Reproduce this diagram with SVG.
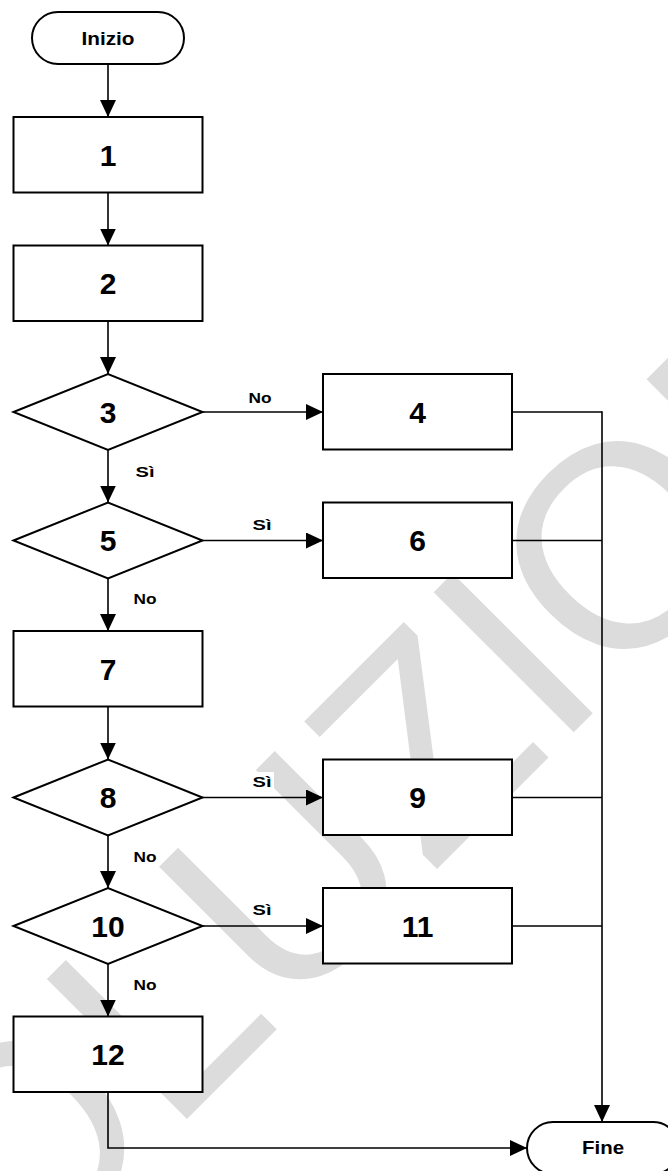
<svg xmlns="http://www.w3.org/2000/svg" width="668" height="1171" viewBox="0 0 668 1171">
  <style>
    .bg { fill: #ffffff; }
    .wm { font-family: "Liberation Sans", Arial, sans-serif; font-size: 288px; fill: #dcdcdc; }
    .shape { fill: #ffffff; stroke: #000000; stroke-width: 2; }
    .conn { fill: none; stroke: #000000; stroke-width: 1.6; }
    .num { font-family: "Liberation Sans", Arial, sans-serif; font-weight: bold; font-size: 30px; fill: #000000; text-anchor: middle; }
    .term { font-family: "Liberation Sans", Arial, sans-serif; font-weight: bold; font-size: 18.5px; fill: #000000; text-anchor: middle; }
    .lbl { font-family: "Liberation Sans", Arial, sans-serif; font-weight: bold; font-size: 15px; fill: #000000; text-anchor: middle; }
    .lblbg { fill: #ffffff; stroke: none; }
  </style>
  <defs>
    <marker id="arrow" markerUnits="userSpaceOnUse" markerWidth="17" markerHeight="16" refX="17" refY="8" orient="auto">
      <path d="M0,0 L17,8 L0,16 Z" fill="#000000"/>
    </marker>
  </defs>

  <rect class="bg" x="0" y="0" width="668" height="1171"/>

  <!-- watermark -->
  <g id="watermark">
    <text class="wm" x="0" y="0" transform="translate(-124 1430) rotate(-45)">SOLUZIONI</text>
  </g>

  <!-- connectors -->
  <g id="connectors">
    <line class="conn" x1="108" y1="64" x2="108" y2="117" marker-end="url(#arrow)"/>
    <line class="conn" x1="108" y1="192.5" x2="108" y2="245.5" marker-end="url(#arrow)"/>
    <line class="conn" x1="108" y1="321" x2="108" y2="374" marker-end="url(#arrow)"/>
    <line class="conn" x1="108" y1="450" x2="108" y2="502.5" marker-end="url(#arrow)"/>
    <line class="conn" x1="108" y1="578.5" x2="108" y2="631" marker-end="url(#arrow)"/>
    <line class="conn" x1="108" y1="706.5" x2="108" y2="759.5" marker-end="url(#arrow)"/>
    <line class="conn" x1="108" y1="835.5" x2="108" y2="888" marker-end="url(#arrow)"/>
    <line class="conn" x1="108" y1="964" x2="108" y2="1016.5" marker-end="url(#arrow)"/>

    <line class="conn" x1="202.5" y1="412" x2="323" y2="412" marker-end="url(#arrow)"/>
    <line class="conn" x1="202.5" y1="540.5" x2="323" y2="540.5" marker-end="url(#arrow)"/>
    <line class="conn" x1="202.5" y1="797.5" x2="323" y2="797.5" marker-end="url(#arrow)"/>
    <line class="conn" x1="202.5" y1="926" x2="323" y2="926" marker-end="url(#arrow)"/>

    <line class="conn" x1="512" y1="412" x2="602" y2="412"/>
    <line class="conn" x1="512" y1="540.5" x2="602" y2="540.5"/>
    <line class="conn" x1="512" y1="797.5" x2="602" y2="797.5"/>
    <line class="conn" x1="512" y1="926" x2="602" y2="926"/>
    <line class="conn" x1="602" y1="411.2" x2="602" y2="1122" marker-end="url(#arrow)"/>

    <polyline class="conn" points="108,1092 108,1148 527,1148" marker-end="url(#arrow)"/>

    <rect class="lblbg" x="246" y="388" width="28" height="18"/>
    <text class="lbl" x="260" y="403" textLength="23" lengthAdjust="spacingAndGlyphs">No</text>
    <rect class="lblbg" x="250" y="515" width="24" height="18"/>
    <text class="lbl" x="262" y="530" textLength="19" lengthAdjust="spacingAndGlyphs">Sì</text>
    <rect class="lblbg" x="250" y="772" width="24" height="18"/>
    <text class="lbl" x="262" y="787" textLength="19" lengthAdjust="spacingAndGlyphs">Sì</text>
    <rect class="lblbg" x="250" y="900" width="24" height="18"/>
    <text class="lbl" x="262" y="915" textLength="19" lengthAdjust="spacingAndGlyphs">Sì</text>
    <rect class="lblbg" x="133" y="462" width="24" height="18"/>
    <text class="lbl" x="145" y="477" textLength="19" lengthAdjust="spacingAndGlyphs">Sì</text>
    <rect class="lblbg" x="131" y="589" width="28" height="18"/>
    <text class="lbl" x="145" y="604" textLength="23" lengthAdjust="spacingAndGlyphs">No</text>
    <rect class="lblbg" x="131" y="847" width="28" height="18"/>
    <text class="lbl" x="145" y="862" textLength="23" lengthAdjust="spacingAndGlyphs">No</text>
    <rect class="lblbg" x="131" y="975" width="28" height="18"/>
    <text class="lbl" x="145" y="990" textLength="23" lengthAdjust="spacingAndGlyphs">No</text>
  </g>

  <!-- nodes -->
  <g id="node-inizio">
    <rect class="shape" x="32" y="12" width="152" height="52" rx="26" ry="26"/>
    <text class="term" x="108" y="45" textLength="53" lengthAdjust="spacingAndGlyphs">Inizio</text>
  </g>
  <g id="node-1">
    <rect class="shape" x="13.5" y="117" width="189" height="75.5"/>
    <text class="num" x="108" y="165.5">1</text>
  </g>
  <g id="node-2">
    <rect class="shape" x="13.5" y="245.5" width="189" height="75.5"/>
    <text class="num" x="108" y="294">2</text>
  </g>
  <g id="node-3">
    <polygon class="shape" points="13.5,412 108,374 202.5,412 108,450"/>
    <text class="num" x="108" y="422.5">3</text>
  </g>
  <g id="node-4">
    <rect class="shape" x="323" y="374" width="189" height="75.5"/>
    <text class="num" x="417.5" y="422.5">4</text>
  </g>
  <g id="node-5">
    <polygon class="shape" points="13.5,540.5 108,502.5 202.5,540.5 108,578.5"/>
    <text class="num" x="108" y="551">5</text>
  </g>
  <g id="node-6">
    <rect class="shape" x="323" y="502.5" width="189" height="75.5"/>
    <text class="num" x="417.5" y="551">6</text>
  </g>
  <g id="node-7">
    <rect class="shape" x="13.5" y="631" width="189" height="75.5"/>
    <text class="num" x="108" y="679.5">7</text>
  </g>
  <g id="node-8">
    <polygon class="shape" points="13.5,797.5 108,759.5 202.5,797.5 108,835.5"/>
    <text class="num" x="108" y="808">8</text>
  </g>
  <g id="node-9">
    <rect class="shape" x="323" y="759.5" width="189" height="75.5"/>
    <text class="num" x="417.5" y="808">9</text>
  </g>
  <g id="node-10">
    <polygon class="shape" points="13.5,926 108,888 202.5,926 108,964"/>
    <text class="num" x="108" y="936.5">10</text>
  </g>
  <g id="node-11">
    <rect class="shape" x="323" y="888" width="189" height="75.5"/>
    <text class="num" x="417.5" y="936.5">11</text>
  </g>
  <g id="node-12">
    <rect class="shape" x="13.5" y="1016.5" width="189" height="75.5"/>
    <text class="num" x="108" y="1065">12</text>
  </g>
  <g id="node-fine">
    <rect class="shape" x="527" y="1122" width="152" height="52" rx="26" ry="26"/>
    <text class="term" x="603" y="1153.5" textLength="42" lengthAdjust="spacingAndGlyphs">Fine</text>
  </g>
</svg>
